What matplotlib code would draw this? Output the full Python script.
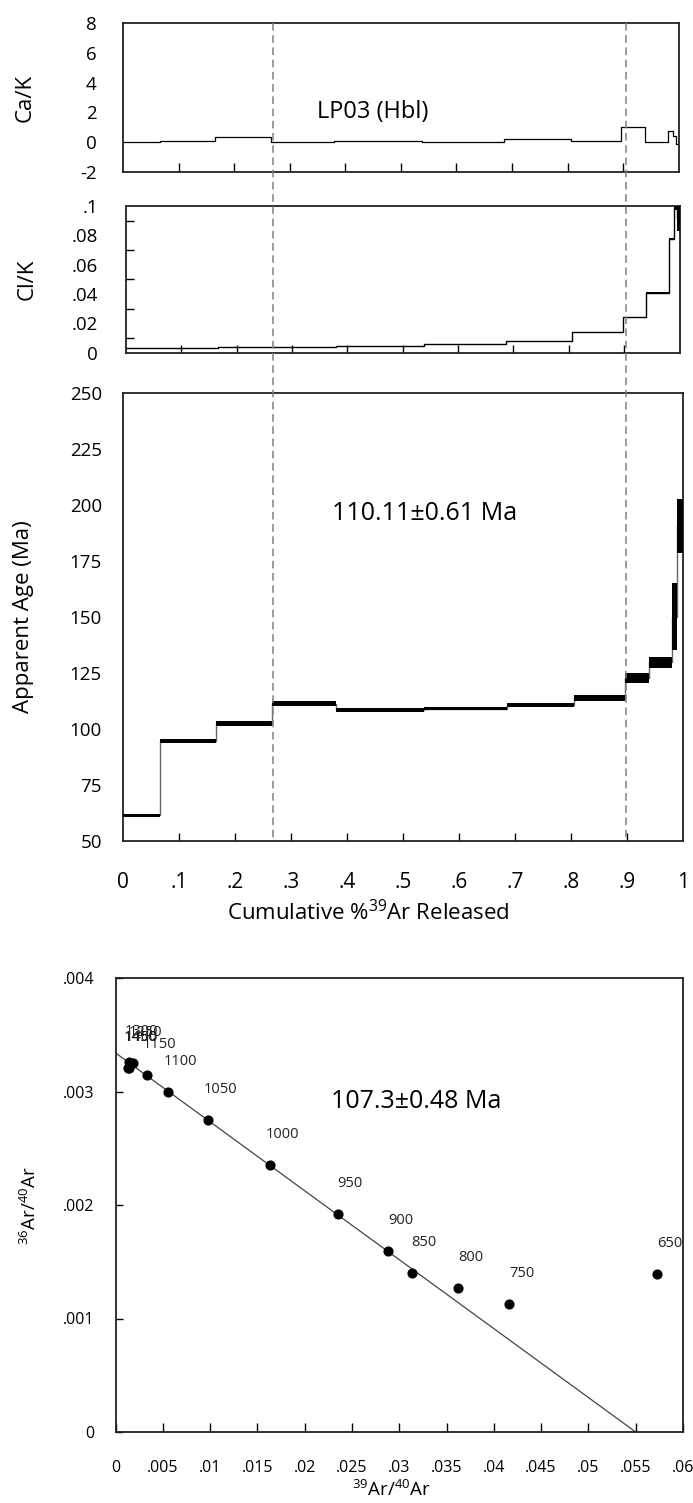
import numpy as np
import matplotlib.pyplot as plt
from matplotlib import transforms

plt.rcParams['font.family'] = ['Open Sans', 'DejaVu Sans']
plt.rcParams['axes.unicode_minus'] = False

# step heating data, LP03 hornblende
cum39 = [0, 0.066, 0.166, 0.266, 0.38, 0.538, 0.686, 0.806, 0.897, 0.94, 0.981, 0.989, 0.995, 1.0]
ca_k = [0.0, 0.07, 0.32, 0.0, 0.05, 0.0, 0.2, 0.1, 0.98, 0.0, 0.75, 0.4, -0.15]
cl_k = [0.0034, 0.0034, 0.0041, 0.0041, 0.0048, 0.0057, 0.008, 0.0139, 0.024, 0.041, 0.0777, 0.0985, 0.0915]
cl_k_err = [0, 0, 0, 0, 0, 0, 0, 0, 0, 0.0003, 0.0008, 0.0012, 0.0085]
age = [61.2, 94.6, 102.1, 111.0, 108.4, 108.9, 110.4, 113.6, 122.5, 129.5, 150.0, 190.5, 190.5]
age_err = [0.5, 0.9, 1.1, 1.1, 0.8, 0.7, 0.9, 1.4, 2.2, 2.3, 15.0, 12.0, 12.0]
plateau = [0.268, 0.899]
plateau_age = '110.11±0.61 Ma'

# isochron
iso_temp = ['650', '750', '800', '850', '900', '950', '1000', '1050', '1100', '1150',
            '1250', '1300', '1400', '1450']
iso_x = [0.05728, 0.04164, 0.03624, 0.03132, 0.02884, 0.02349, 0.01634, 0.00981, 0.00558,
         0.0033, 0.00182, 0.00146, 0.0014, 0.00135]
iso_y = [0.001392, 0.001128, 0.001266, 0.001398, 0.001597, 0.001918, 0.002352, 0.002749,
         0.002998, 0.003145, 0.003249, 0.003263, 0.00321, 0.003204]
iso_intercept = 0.00334
iso_x_intercept = 0.0550
iso_age = '107.3±0.48 Ma'

cak_ticks = [-2, 0, 2, 4, 6, 8]
clk_ticks = [0, 0.02, 0.04, 0.06, 0.08, 0.1]
clk_labels = ['0', '.02', '.04', '.06', '.08', '.1']
age_ticks = [50, 75, 100, 125, 150, 175, 200, 225, 250]
frac_ticks = [0, 0.1, 0.2, 0.3, 0.4, 0.5, 0.6, 0.7, 0.8, 0.9, 1.0]
frac_labels = ['0', '.1', '.2', '.3', '.4', '.5', '.6', '.7', '.8', '.9', '1']
isox_ticks = [0, 0.005, 0.01, 0.015, 0.02, 0.025, 0.03, 0.035, 0.04, 0.045, 0.05, 0.055, 0.06]
isox_labels = ['0', '.005', '.01', '.015', '.02', '.025', '.03', '.035', '.04', '.045', '.05', '.055', '.06']
isoy_ticks = [0, 0.001, 0.002, 0.003, 0.004]
isoy_labels = ['0', '.001', '.002', '.003', '.004']

W, H = 693, 1503
fig = plt.figure(figsize=(W / 100, H / 100), dpi=100)
fig.patch.set_facecolor('white')


def box(l, t, r, b):
    return fig.add_axes([l / W, 1 - b / H, (r - l) / W, (b - t) / H])


ax1 = box(123, 23.3, 678.7, 171.7)
ax2 = box(125.8, 206, 679.6, 352.7)
ax3 = box(122.7, 392.7, 683, 840.5)
ax4 = box(115.5, 978, 683, 1432)

for ax in (ax1, ax2, ax3, ax4):
    for s in ax.spines.values():
        s.set_linewidth(1.3)
        s.set_color('#222222')

lefts = cum39[:-1]
widths = np.diff(cum39)

# Ca/K
ax1.plot(cum39, ca_k + [ca_k[-1]], drawstyle='steps-post', color='black', lw=0.9)
ax1.set_xlim(0, 1)
ax1.set_ylim(-2, 8)
ax1.set_yticks(cak_ticks)
ax1.set_xticks(frac_ticks[1:-1])
ax1.tick_params(axis='x', direction='in', length=6.5, width=1, labelbottom=False)
ax1.tick_params(axis='y', length=0, pad=19, labelsize=13.5)
ax1.text(0.45, 0.4, 'LP03 (Hbl)', transform=ax1.transAxes, ha='center', va='center', fontsize=17)

# Cl/K
ax2.plot(cum39, cl_k + [cl_k[-1]], drawstyle='steps-post', color='black', lw=1.0)
ax2.bar(lefts, 2 * np.array(cl_k_err), bottom=np.array(cl_k) - np.array(cl_k_err),
        width=widths, align='edge', color='black', lw=0, zorder=3)
ax2.set_xlim(0, 1)
ax2.set_ylim(0, 0.1)
ax2.set_yticks(clk_ticks)
ax2.set_yticklabels(clk_labels)
ax2.set_yticks([0.01, 0.03, 0.05, 0.07, 0.09], minor=True)
ax2.set_xticks(frac_ticks[1:-1])
ax2.tick_params(axis='x', direction='in', length=5.5, width=1, labelbottom=False)
ax2.tick_params(axis='y', which='major', length=0, pad=20, labelsize=13.5)
ax2.tick_params(axis='y', which='minor', direction='in', length=5.5, width=1)

# age spectrum
ax3.plot(cum39, age + [age[-1]], drawstyle='steps-post', color='#666666', lw=1.0)
ax3.bar(lefts, 2 * np.array(age_err), bottom=np.array(age) - np.array(age_err),
        width=widths, align='edge', color='black', lw=0, zorder=3)
ax3.set_xlim(0, 1)
ax3.set_ylim(50, 250)
ax3.set_yticks(age_ticks)
ax3.set_yticks([75], minor=True)
ax3.set_xticks(frac_ticks)
ax3.set_xticklabels(frac_labels)
ax3.tick_params(axis='x', direction='in', length=6, width=1, pad=23, labelsize=15)
ax3.tick_params(axis='y', which='major', length=0, pad=15, labelsize=13.5)
ax3.tick_params(axis='y', which='minor', direction='in', length=6, width=1)
for t in ax3.xaxis.get_major_ticks():
    if t.get_loc() in (0, 1.0):
        t.tick1line.set_visible(False)
ax3.text(0.538, 0.731, plateau_age, transform=ax3.transAxes, ha='center', va='center', fontsize=18)

# plateau limits through the three panels
trans = transforms.blended_transform_factory(ax3.transData, fig.transFigure)
for xp in plateau:
    ax3.plot([xp, xp], [1 - 23.3 / H, 1 - 839 / H], transform=trans, clip_on=False,
             color='#808080', lw=1.1, ls=(0, (5, 3)), zorder=5)

# isochron
xl = np.array([0, iso_x_intercept])
ax4.plot(xl, iso_intercept * (1 - xl / iso_x_intercept), color='#444444', lw=0.9)
ax4.plot(iso_x, iso_y, 'o', color='black', ms=6.3, zorder=4)
for t, x, y in zip(iso_temp, iso_x, iso_y):
    ax4.annotate(t, (x, y), xytext=(9, 22), textcoords='offset points',
                 ha='center', va='center', fontsize=10.5, color='#222222')
ax4.set_xlim(0, 0.06)
ax4.set_ylim(0, 0.004)
ax4.set_xticks(isox_ticks)
ax4.set_xticklabels(isox_labels)
ax4.set_yticks(isoy_ticks)
ax4.set_yticklabels(isoy_labels)
ax4.tick_params(axis='x', direction='in', length=6.5, width=1, pad=20, labelsize=11.5)
ax4.tick_params(axis='y', direction='in', length=5, width=1, pad=15, labelsize=11.5)
ax4.text(0.529, 0.7275, iso_age, transform=ax4.transAxes, ha='center', va='center', fontsize=18)

# axis titles
fig.text(25 / W, 1 - 97.5 / H, 'Ca/K', rotation=90, ha='center', va='center', fontsize=16)
fig.text(27 / W, 1 - 279 / H, 'Cl/K', rotation=90, ha='center', va='center', fontsize=16)
fig.text(24 / W, 1 - 616.6 / H, 'Apparent Age (Ma)', rotation=90, ha='center', va='center', fontsize=16)
fig.text(368 / W, 1 - 913 / H, r'Cumulative %$\mathregular{^{39}}$Ar Released',
         ha='center', va='center', fontsize=16)
fig.text(30 / W, 1 - 1205 / H, r'$\mathregular{^{36}}$Ar/$\mathregular{^{40}}$Ar',
         rotation=90, ha='center', va='center', fontsize=13.5)
fig.text(392 / W, 1 - 1490 / H, r'$\mathregular{^{39}}$Ar/$\mathregular{^{40}}$Ar',
         ha='center', va='center', fontsize=13.5)

plt.savefig('out.png', dpi=100)
